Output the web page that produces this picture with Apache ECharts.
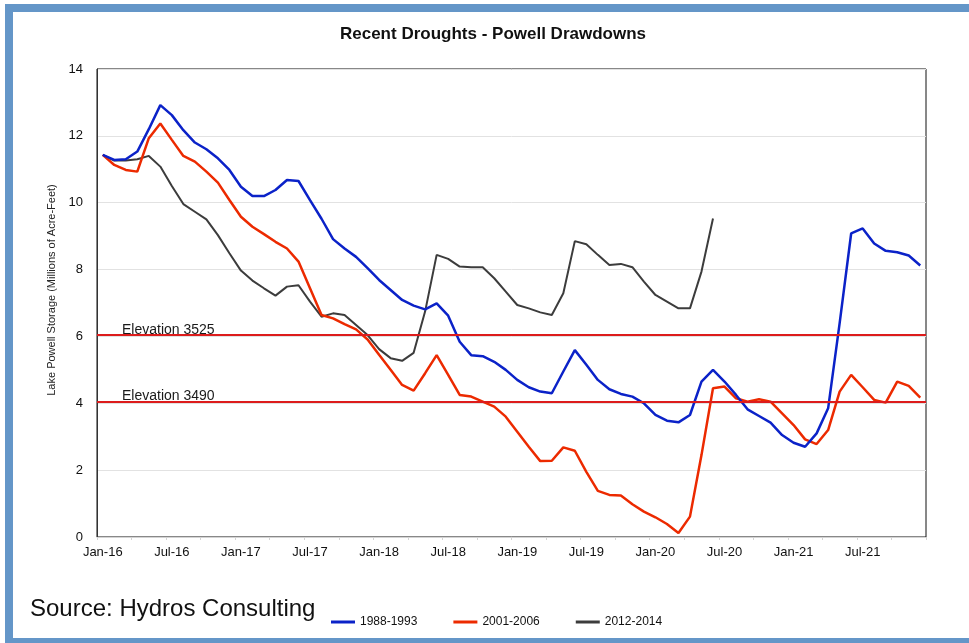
<!DOCTYPE html>
<html>
<head>
<meta charset="utf-8">
<script src="https://cdn.jsdelivr.net/npm/echarts@6/dist/echarts.min.js"></script>
<style>
html,body{margin:0;padding:0;background:#fff;}
#chart{width:969px;height:643px;}
</style>
</head>
<body>
<div id="chart"></div>
<script>
// ---- Data ----
const months = ['Jan','Feb','Mar','Apr','May','Jun','Jul','Aug','Sep','Oct','Nov','Dec'];
const years = ['16','17','18','19','20','21'];
const categories = [];
years.forEach(y => months.forEach(m => categories.push(m + '-' + y)));

const seriesNames = ['1988-1993', '2001-2006', '2012-2014'];

const drought1988 = [
  11.43, 11.28, 11.30, 11.53, 12.20, 12.92, 12.62, 12.17, 11.80, 11.60, 11.33, 10.98,
  10.48, 10.20, 10.20, 10.38, 10.68, 10.65, 10.08, 9.52, 8.91, 8.63, 8.38, 8.04,
  7.69, 7.39, 7.09, 6.92, 6.81, 6.99, 6.62, 5.84, 5.44, 5.41, 5.24, 5.00,
  4.70, 4.48, 4.35, 4.30, 4.95, 5.59, 5.15, 4.70, 4.42, 4.28, 4.20, 4.00,
  3.65, 3.48, 3.43, 3.65, 4.65, 5.00, 4.65, 4.25, 3.82, 3.62, 3.42, 3.05,
  2.82, 2.70, 3.10, 3.85, 6.40, 9.08, 9.23, 8.78, 8.56, 8.52, 8.42, 8.12
];
const drought2001 = [
  11.43, 11.13, 10.98, 10.93, 11.93, 12.37, 11.88, 11.40, 11.23, 10.93, 10.60, 10.08,
  9.58, 9.28, 9.06, 8.83, 8.63, 8.24, 7.44, 6.64, 6.54, 6.37, 6.21, 5.91,
  5.45, 5.00, 4.55, 4.38, 4.90, 5.44, 4.85, 4.25, 4.20, 4.05, 3.90, 3.60,
  3.15, 2.70, 2.27, 2.28, 2.68, 2.58, 1.95, 1.38, 1.26, 1.24, 0.98, 0.76,
  0.59, 0.39, 0.12, 0.61, 2.45, 4.45, 4.50, 4.15, 4.05, 4.12, 4.05, 3.70,
  3.35, 2.92, 2.78, 3.20, 4.35, 4.85, 4.48, 4.10, 4.02, 4.65, 4.52, 4.17
];
const drought2012 = [
  11.43, 11.26, 11.26, 11.30, 11.40, 11.08, 10.50, 9.96, 9.73, 9.50, 9.03, 8.49,
  7.97, 7.67, 7.44, 7.22, 7.49, 7.53, 7.04, 6.59, 6.69, 6.64, 6.34, 6.04,
  5.62, 5.35, 5.27, 5.51, 6.75, 8.44, 8.32, 8.09, 8.07, 8.07, 7.74, 7.34,
  6.94, 6.84, 6.72, 6.64, 7.29, 8.85, 8.76, 8.44, 8.14, 8.17, 8.07, 7.64,
  7.24, 7.04, 6.84, 6.84, 7.94, 9.53
];

const elevationValues = [6.04, 4.05];
const elevationLabels = ['Elevation 3525', 'Elevation 3490'];

// ---- Chart ----
const chart = echarts.init(document.getElementById('chart'), null, {renderer: 'canvas'});
const FONT = '"Liberation Sans", Arial, sans-serif';

const option = {
  animation: false,
  backgroundColor: '#ffffff',
  title: {
    text: 'Recent Droughts - Powell Drawdowns',
    left: 488,
    top: 21,
    textAlign: 'center',
    textStyle: {fontFamily: FONT, fontSize: 17, fontWeight: 'bold', color: '#111'}
  },
  grid: {
    left: 97, top: 69, right: 43, bottom: 106,
    show: true, borderColor: '#111', borderWidth: 1, backgroundColor: 'transparent'
  },
  legend: {
    left: 326, top: 611,
    icon: 'rect', itemWidth: 24, itemHeight: 3, itemGap: 36,
    textStyle: {fontFamily: FONT, fontSize: 12, color: '#111'},
    data: seriesNames
  },
  xAxis: {
    type: 'category',
    data: categories,
    boundaryGap: true,
    axisLine: {show: true, lineStyle: {color: '#d4d4d4', width: 1}},
    axisTick: {show: true, interval: 2, length: 3, lineStyle: {color: '#d4d4d4'}},
    axisLabel: {interval: 5, fontFamily: FONT, fontSize: 13, color: '#111', margin: 9},
    splitLine: {show: false}
  },
  yAxis: {
    type: 'value',
    min: 0, max: 14, interval: 2,
    name: 'Lake Powell Storage (Millions of Acre-Feet)',
    nameLocation: 'middle',
    nameGap: 37,
    nameTextStyle: {fontFamily: FONT, fontSize: 11, color: '#222', padding: [0, 0, 0, 26]},
    axisLine: {show: true, lineStyle: {color: '#333', width: 1}},
    axisTick: {show: false},
    axisLabel: {fontFamily: FONT, fontSize: 13, color: '#111', margin: 14},
    splitLine: {show: true, lineStyle: {color: '#e2e2e2', width: 1}}
  },
  series: [
    {
      name: seriesNames[0], type: 'line', data: drought1988,
      symbol: 'none', smooth: false, z: 4,
      lineStyle: {color: '#0b22c8', width: 2.5},
      itemStyle: {color: '#0b22c8'}
    },
    {
      name: seriesNames[1], type: 'line', data: drought2001,
      symbol: 'none', smooth: false, z: 3,
      lineStyle: {color: '#ec2a00', width: 2.5},
      itemStyle: {color: '#ec2a00'},
      markLine: {
        silent: true,
        symbol: ['none', 'none'],
        lineStyle: {color: '#dd1c1c', width: 2, type: 'solid'},
        label: {
          show: true, position: 'insideStartTop', distance: [25, -2],
          fontFamily: FONT, fontSize: 14, color: '#1a1a1a'
        },
        data: elevationValues.map((v, i) => ({yAxis: v, label: {formatter: elevationLabels[i]}}))
      }
    },
    {
      name: seriesNames[2], type: 'line', data: drought2012,
      symbol: 'none', smooth: false, z: 2,
      lineStyle: {color: '#3c3c3c', width: 2},
      itemStyle: {color: '#3c3c3c'}
    }
  ],
  graphic: [
    {
      type: 'rect', silent: true, z: 100,
      shape: {x: 9, y: 8, width: 1000, height: 634},
      style: {fill: 'none', stroke: '#6496c8', lineWidth: 8}
    },
    {
      type: 'text', left: 30, top: 597, z: 100,
      style: {text: 'Source: Hydros Consulting', fontFamily: FONT, fontSize: 24, fill: '#111'}
    }
  ]
};
chart.setOption(option);
</script>
</body>
</html>
